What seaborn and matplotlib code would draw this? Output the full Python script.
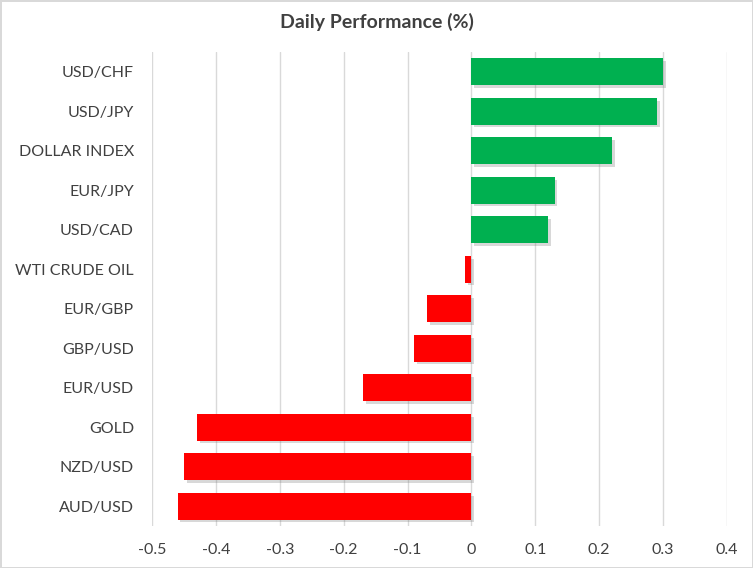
import numpy as np
import pandas as pd
import matplotlib
matplotlib.use("Agg")
import matplotlib.pyplot as plt
import matplotlib.patheffects as pe
import seaborn as sns

# data (top to bottom)
pairs = ['USD/CHF', 'USD/JPY', 'DOLLAR INDEX', 'EUR/JPY', 'USD/CAD', 'WTI CRUDE OIL',
         'EUR/GBP', 'GBP/USD', 'EUR/USD', 'GOLD', 'NZD/USD', 'AUD/USD']
changes = [0.30, 0.29, 0.22, 0.13, 0.12, -0.01, -0.07, -0.09, -0.17, -0.43, -0.45, -0.46]
xticks = [-0.5, -0.4, -0.3, -0.2, -0.1, 0, 0.1, 0.2, 0.3, 0.4]
xtick_labels = ['-0.5', '-0.4', '-0.3', '-0.2', '-0.1', '0', '0.1', '0.2', '0.3', '0.4']

df = pd.DataFrame({'pair': pairs, 'change': changes})
colors = ['#00B050' if v > 0 else '#FF0000' for v in changes]

sns.set_style('white')
plt.rcParams['font.family'] = ['Lato', 'DejaVu Sans']

fig = plt.figure(figsize=(7.53, 5.68), dpi=100)
ax = fig.add_axes([152/753, 1 - 526/568, 575/753, 474/568])

sns.barplot(data=df, y='pair', x='change', hue='pair', palette=colors, saturation=1,
            orient='h', width=0.68, legend=False, ax=ax, zorder=3)

shadow = [pe.SimplePatchShadow(offset=(2, -2), shadow_rgbFace='#7f7f7f', alpha=0.3), pe.Normal()]
for bar in ax.patches:
    bar.set_path_effects(shadow)
    bar.set_linewidth(0)

ax.set_xlim(-0.5, 0.4)
ax.set_ylim(11.5, -0.5)
ax.set_xticks(xticks)
ax.set_xticklabels(xtick_labels)
ax.grid(axis='x', color='#d9d9d9', lw=1, zorder=0)
ax.grid(axis='y', visible=False)
ax.set_axisbelow(True)
for s in ax.spines.values():
    s.set_visible(False)
ax.tick_params(axis='both', length=0, labelsize=11.5, colors='#404040')
ax.tick_params(axis='y', pad=13)
ax.tick_params(axis='x', pad=12)
ax.set_xlabel('')
ax.set_ylabel('')

fig.text(0.5, 1 - 22/568, 'Daily Performance (%)', ha='center', va='center',
         fontsize=14, fontweight='bold', color='#404040')

fig.patch.set_edgecolor('#d9d9d9')
fig.patch.set_linewidth(2)

fig.savefig('out.png', dpi=100)
